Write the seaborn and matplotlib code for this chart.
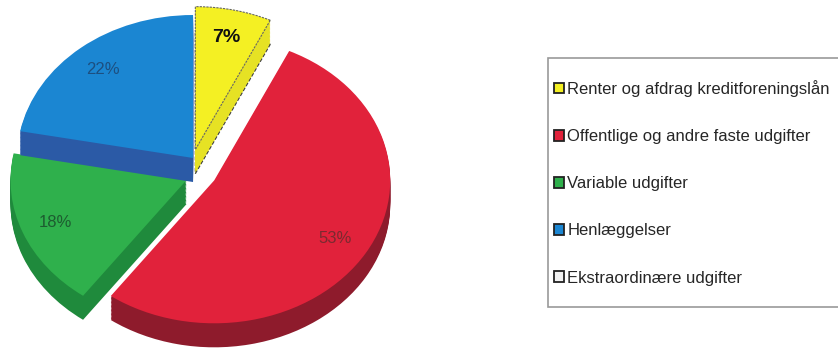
import matplotlib
matplotlib.use("Agg")
import matplotlib.pyplot as plt
import matplotlib.patches as mpatches
import seaborn as sns

# data
categories = ['Renter og afdrag kreditforeningslån',
              'Offentlige og andre faste udgifter',
              'Variable udgifter',
              'Henlæggelser',
              'Ekstraordinære udgifter']
shares = [7, 53, 18, 22, 0]

top_colors = ['#f4f023', '#e1223b', '#2fb04c', '#1b86d2', '#f2f2f2']
side_colors = ['#e6e224', '#8e1b2c', '#1f8a3c', '#2b5aa6', '#bbbbbb']
label_colors = ['#111111', '#7a2a30', '#1d5c30', '#1d4f80', '#111111']
explode = [0.06, 0.14, 0.04, 0.0, 0.0]
layer_order = [1, 2, 3, 4, 0]   # back slices first
# the front slices sit a little lower in the 3d view
groups = [(0.0, [0, 3, 4]), (0.085, [1]), (0.14, [2])]

sns.set_theme(style="white")
plt.rcParams['font.family'] = ['Liberation Sans', 'DejaVu Sans']

fig = plt.figure(figsize=(8.38, 3.49), dpi=100)
ax = fig.add_axes([0, 0, 0.5, 1])

depth = 0.168
n_layers = 18
for off, members in groups:
    # extruded side: stacked darker copies shifted down
    for k in range(n_layers, 0, -1):
        dy = depth * k / n_layers
        wedges, _ = ax.pie(shares, colors=side_colors, explode=explode,
                           startangle=90, counterclock=False,
                           center=(0, -off - dy),
                           wedgeprops=dict(linewidth=0))
        for i, (w, z) in enumerate(zip(wedges, layer_order)):
            w.set_zorder(z * 10 + 1)
            w.set_visible(i in members)
        if k == n_layers:
            wedges[0].set_edgecolor('#444444')
            wedges[0].set_linewidth(0.9)
            wedges[0].set_linestyle((0, (3, 1.5)))

    # top face
    wedges, _, autotexts = ax.pie(shares, colors=top_colors, explode=explode,
                                  startangle=90, counterclock=False,
                                  center=(0, -off),
                                  autopct=lambda p: f'{p:.0f}%' if p >= 0.5 else '',
                                  pctdistance=0.8,
                                  wedgeprops=dict(linewidth=0))
    for i, (w, t, c, z) in enumerate(zip(wedges, autotexts, label_colors,
                                         layer_order)):
        w.set_zorder(z * 10 + 5)
        w.set_visible(i in members)
        t.set_visible(i in members)
        t.set_color(c)
        t.set_fontsize(12)
        t.set_zorder(z * 10 + 8)
    wedges[0].set_edgecolor('#666666')
    wedges[0].set_linewidth(0.8)
    wedges[0].set_linestyle((0, (2, 1)))
    autotexts[0].set_fontweight('bold')
    autotexts[0].set_fontsize(14)

ax.set_aspect('auto')
ax.set_xlim(-1.097, 1.284)
ax.set_ylim(-1.336, 1.105)
ax.axis('off')

# legend frame (runs off the right edge, as in the scan)
fig.patches.append(mpatches.Rectangle((548 / 838, 1 - 307 / 349),
                                      0.4, (307 - 58) / 349,
                                      transform=fig.transFigure,
                                      facecolor='white', edgecolor='#999999',
                                      linewidth=1.2, zorder=0))

handles = [mpatches.Patch(facecolor=c, edgecolor='#222222', linewidth=1.3)
           for c in top_colors]
leg = fig.legend(handles, categories, loc='upper left',
                 bbox_to_anchor=(554 / 838, 1 - 80 / 349),
                 frameon=False, fontsize=12,
                 handlelength=0.6, handleheight=0.6, handletextpad=0.2,
                 labelspacing=1.93, borderpad=0, borderaxespad=0)

fig.savefig('out.png', dpi=100)
